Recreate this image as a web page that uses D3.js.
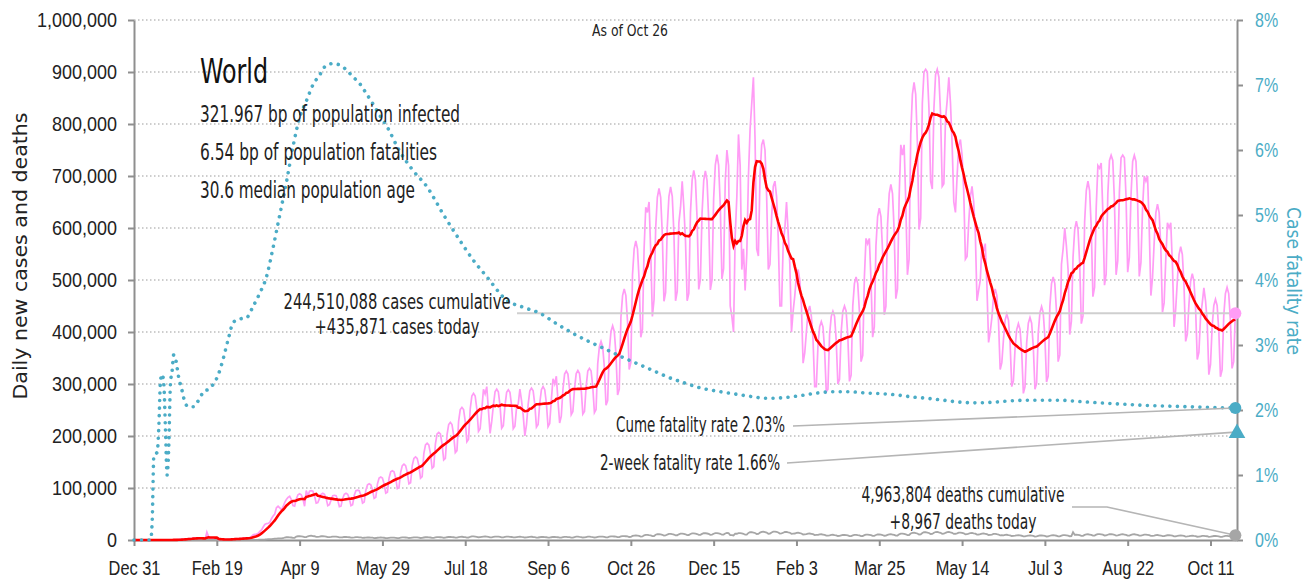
<!DOCTYPE html>
<html>
<head>
<meta charset="utf-8">
<script src="https://cdn.jsdelivr.net/npm/d3@7"></script>
<style>
body { margin: 0; background: #fff; }
svg { font-family: "DejaVu Sans Condensed", "DejaVu Sans", sans-serif; font-stretch: condensed; }
</style>
</head>
<body>
<svg width="1311" height="579"></svg>
<script>
// daily new cases in thousands, one value per day starting Dec 31, 2019 (rows = weeks, Tue..Mon)
var casesK = [
  0,0,0,0,0,0,0,
  0,0,0,0,0,0,0,
  0,0,0,0.03,0.08,0.1,0.08,
  0.15,0.26,0.1,0.29,0.45,0.69,0.77,
  1.77,1.46,1.74,1.98,2.1,2.59,2.83,
  3.24,3.88,3.69,3.14,3.39,2.65,2.98,
  2.47,2.02,15.15,6.53,2.66,2.1,2.06,
  1.88,1.79,0.56,0.63,1.06,0.64,0.88,
  1.06,1.4,1.8,1.8,2.2,2.0,2.6,
  2.4,2.8,2.8,3.8,4.1,4.0,3.9,
  4.5,7.0,10.0,10.9,11.4,13.0,16.5,
  19.4,25.0,29.8,31.6,31.7,34.0,41.0,
  46,50,62,65,62,58,64,
  72,78,82,84,78,66,65,
  79,87,89,87,79,65,95,
  85,94,95,94,85,71,72,
  80,88,90,88,80,66,68,
  77,85,86,85,77,64,65,
  80,88,90,88,80,66,68,
  86,95,96,95,86,71,73,
  96,106,108,106,96,80,82,
  108,119,121,119,108,90,92,
  119,131,133,131,119,99,101,
  130,143,146,143,130,108,110,
  143,157,160,157,143,119,122,
  166,183,186,183,166,138,141,
  185,204,207,204,185,154,157,
  202,222,226,222,202,168,172,
  228,251,255,251,228,189,194,
  252,277,282,277,252,209,214,
  250,290,281,295,250,205,228,
  259,285,290,285,259,215,220,
  258,284,289,284,258,214,219,
  255,262,290,268,240,200,222,
  261,287,292,287,261,217,222,
  263,289,295,289,263,218,224,
  270,310,300,315,268,225,238,
  290,319,325,319,290,241,247,
  291,320,326,320,291,242,247,
  295,325,330,325,295,245,251,
  339,372,382,372,332,259,268,
  365,401,412,401,358,279,290,
  428,470,483,470,420,328,341,
  510,560,575,560,500,390,405,
  560,640,630,650,555,430,462,
  600,659,676,659,588,459,476,
  602,661,679,661,590,460,478,
  610,640,690,640,575,460,474,
  630,692,711,692,618,482,501,
  629,691,710,691,617,481,500,
  657,721,741,721,644,502,522,
  690,750,720,450,430,400,585,
  660,780,720,520,560,480,550,
  700,790,840,890,770,560,546,
  700,760,770,750,660,520,530,
  620,680,690,660,580,450,450,
  570,600,650,590,530,400,440,
  470,510,520,500,450,340,360,
  400,440,450,430,385,295,295,
  375,410,420,410,365,285,290,
  395,430,440,430,384,300,309,
  400,440,450,440,392,305,317,
  450,493,506,493,440,343,355,
  505,580,570,580,500,390,410,
  566,622,638,622,555,433,449,
  607,666,684,666,595,464,483,
  660,760,740,760,650,510,540,
  780,857,880,857,765,597,619,
  840,900,905,900,830,690,675,
  830,895,905,890,820,680,685,
  810,845,890,840,760,650,630,
  700,760,770,740,670,540,545,
  610,660,680,650,590,460,480,
  500,570,555,570,490,380,400,
  428,470,483,470,420,328,341,
  386,423,435,423,378,295,306,
  369,405,416,405,362,282,295,
  379,417,428,417,372,290,301,
  398,437,449,437,390,304,315,
  449,493,506,493,440,343,356,
  530,560,600,565,520,395,421,
  544,597,613,597,533,416,431,
  612,672,690,672,600,468,486,
  640,720,715,725,630,490,511,
  665,730,740,730,652,510,537,
  670,735,740,735,660,515,544,
  663,728,740,728,650,507,534,
  640,700,690,700,600,470,505,
  573,629,646,629,562,438,456,
  540,610,600,610,530,410,445,
  500,549,564,549,490,382,396,
  454,498,512,498,445,347,361,
  430,455,485,460,420,318,337,
  411,451,463,451,403,314,327,
  431,474,486,474,423,330,343,
  435.871
];

// daily new deaths in thousands, same days
var deathsK = [
  0,0,0,0,0,0,0,
  0,0,0,0,0,0,0,
  0,0,0,0,0,0,0,
  0.01,0.01,0.01,0.01,0.02,0.02,0.03,
  0.03,0.03,0.04,0.05,0.05,0.06,0.06,
  0.07,0.07,0.07,0.09,0.09,0.1,0.1,
  0.1,0.1,0.25,0.14,0.14,0.1,0.1,
  0.1,0.1,0.12,0.1,0.1,0.1,0.15,
  0.07,0.05,0.04,0.06,0.06,0.06,0.07,
  0.08,0.1,0.1,0.1,0.1,0.1,0.2,
  0.25,0.3,0.3,0.35,0.4,0.45,0.6,
  0.7,0.9,1.0,1.2,1.5,1.6,1.8,
  2.2,2.5,2.7,3.0,3.2,3.1,3.4,
  4.8,5.3,5.4,5.1,4.8,4.1,4.2,
  6.5,7.2,7.3,6.9,6.5,5.5,5.7,
  7.2,7.9,8.5,7.6,7.2,6.1,5.9,
  6.5,7.2,7.3,6.9,6.5,5.5,5.7,
  5.9,6.5,6.6,6.3,5.9,5.0,5.1,
  5.3,5.8,5.9,5.6,5.3,4.5,4.6,
  4.9,5.4,5.5,5.2,4.9,4.2,4.3,
  4.4,4.8,4.9,4.7,4.4,3.7,3.8,
  4.3,4.7,4.8,4.6,4.3,3.7,3.7,
  4.2,4.6,4.7,4.5,4.2,3.6,3.7,
  4.5,5.0,5.0,4.8,4.5,3.8,3.9,
  4.6,5.1,5.2,4.9,4.6,3.9,4.0,
  4.8,5.3,5.4,5.1,4.8,4.1,4.2,
  5.0,5.5,5.6,5.3,5.0,4.3,4.4,
  5.3,5.8,5.9,5.6,5.3,4.5,4.6,
  5.5,6.1,6.2,5.8,5.5,4.7,4.8,
  6.2,6.8,6.9,6.6,6.2,5.3,5.4,
  6.0,6.6,6.7,6.4,6.0,5.1,5.2,
  5.9,6.5,6.6,6.3,5.9,5.0,5.1,
  5.8,6.4,6.5,6.1,5.8,4.9,5.0,
  5.6,6.2,6.3,5.9,5.6,4.8,4.9,
  5.5,6.1,6.2,5.8,5.5,4.7,4.8,
  5.3,5.8,5.9,5.6,5.3,4.5,4.6,
  5.3,5.8,5.9,5.6,5.3,4.5,4.6,
  5.4,5.9,6.0,5.7,5.4,4.6,4.7,
  5.7,6.3,6.4,6.0,5.7,4.8,5.0,
  5.7,6.3,6.4,6.0,5.7,4.8,5.0,
  5.9,6.5,6.6,6.3,5.9,5.0,5.1,
  6.3,6.9,7.1,6.7,6.3,5.4,5.5,
  6.8,7.5,7.6,7.2,6.8,5.8,5.9,
  7.8,8.6,8.7,8.3,7.8,6.6,6.8,
  8.9,9.8,10.0,9.4,8.9,7.6,7.7,
  10.1,11.1,11.3,10.7,10.1,8.6,8.8,
  10.5,11.6,11.8,11.1,10.5,8.9,9.1,
  11.0,12.1,12.3,11.7,11.0,9.4,9.6,
  11.5,12.7,12.9,12.2,11.5,9.8,10.0,
  11.8,13.0,13.2,12.5,11.8,10.0,10.3,
  12.0,13.2,13.4,12.7,12.0,10.2,10.4,
  12.5,13.5,13.2,9.5,9.5,8.8,12.1,
  12.0,13.2,13.4,12.7,12.0,10.2,10.4,
  13.5,14.9,15.1,14.3,13.5,11.5,11.7,
  14.2,15.6,15.9,15.1,14.2,12.1,12.4,
  14.5,16.0,16.2,15.4,14.5,12.3,12.6,
  14.0,15.4,15.7,14.8,14.0,11.9,12.2,
  12.5,13.8,14.0,13.3,12.5,10.6,10.9,
  11.2,12.3,12.5,11.9,11.2,9.5,9.7,
  9.8,10.8,11.0,10.4,9.8,8.3,8.5,
  9.0,9.9,10.1,9.5,9.0,7.7,7.8,
  8.7,9.6,9.7,9.2,8.7,7.4,7.6,
  8.9,9.8,10.0,9.4,8.9,7.6,7.7,
  9.3,10.2,10.4,9.9,9.3,7.9,8.1,
  9.6,10.6,10.8,10.2,9.6,8.2,8.4,
  9.9,10.9,11.1,10.5,9.9,8.4,8.6,
  11.0,12.1,12.3,11.7,11.0,9.4,9.6,
  12.5,13.8,14.0,13.3,12.5,10.6,10.9,
  13.5,14.9,15.1,14.3,13.5,11.5,11.7,
  13.9,15.3,15.6,14.7,13.9,11.8,12.1,
  13.8,15.2,15.5,14.6,13.8,11.7,12.0,
  12.8,14.1,14.3,13.6,12.8,10.9,11.1,
  12.2,13.4,13.7,12.9,12.2,10.4,10.6,
  11.3,12.4,12.7,12.0,11.3,9.6,9.8,
  10.5,11.6,11.8,11.1,10.5,8.9,9.1,
  9.0,9.9,10.1,9.5,9.0,7.7,7.8,
  8.2,9.0,9.2,8.7,8.2,7.0,7.1,
  7.8,8.6,8.7,8.3,7.8,6.6,6.8,
  7.9,8.7,8.8,8.4,7.9,6.7,6.9,
  8.2,9.0,9.2,8.7,8.2,7.0,7.1,
  8.5,9.4,9.5,9.0,8.5,7.2,7.4,
  15.0,10.1,10.3,9.8,9.2,7.8,8.0,
  9.8,10.8,11.0,10.4,9.8,8.3,8.5,
  10.2,11.2,11.4,10.8,10.2,8.7,8.9,
  10.1,11.1,11.3,10.7,10.1,8.6,8.8,
  9.9,10.9,11.1,10.5,9.9,8.4,8.6,
  9.8,10.8,11.0,10.4,9.8,8.3,8.5,
  9.3,10.2,10.4,9.9,9.3,7.9,8.1,
  8.6,9.5,9.6,9.1,8.6,7.3,7.5,
  8.3,9.1,9.3,8.8,8.3,7.1,7.2,
  7.8,8.6,8.7,8.3,7.8,6.6,6.8,
  7.4,8.1,8.3,7.8,7.4,6.3,6.4,
  7.2,7.9,8.1,7.6,7.2,6.1,6.3,
  7.0,7.7,7.8,7.4,7.0,6.0,6.1,
  7.2,7.9,8.1,7.6,7.2,6.1,6.3,
  8.967
];

// cumulative case fatality rate (%), sampled on these day numbers since Dec 31, 2019
var cfrDays = [0,10,11,12,14,15,16,17,18,19,20,21,22,23,24,25,27,29,31,33,36,39,42,45,48,51,54,57,60,64,68,72,76,80,84,88,92,96,100,104,108,112,116,120,124,128,132,136,140,144,148,153,160,168,177,187,197,205,213,225,235,245,255,265,275,286,296,306,314,322,332,342,352,362,372,382,392,402,412,422,432,443,452,461,470,479,489,499,509,519,529,539,549,559,571,583,597,611,624,637,650,665];
var cfrPct  = [0,0,0.3,1.3,1.35,1.75,2.45,2.55,2.4,1.7,1.0,1.45,2.4,2.6,2.85,2.8,2.5,2.3,2.1,2.05,2.05,2.15,2.28,2.32,2.4,2.55,2.8,3.1,3.35,3.4,3.42,3.6,3.8,4.05,4.5,5.0,5.5,6.05,6.5,6.75,7.0,7.15,7.3,7.33,7.31,7.24,7.13,7.03,6.88,6.72,6.55,6.35,6.0,5.7,5.43,5.0,4.6,4.3,4.05,3.69,3.58,3.49,3.33,3.18,3.05,2.92,2.8,2.69,2.6,2.51,2.42,2.34,2.29,2.25,2.21,2.18,2.19,2.22,2.26,2.28,2.28,2.26,2.25,2.23,2.2,2.18,2.15,2.12,2.11,2.12,2.14,2.15,2.15,2.15,2.13,2.11,2.09,2.07,2.06,2.05,2.04,2.03];

var xTickDates = ["2019-12-31","2020-02-19","2020-04-09","2020-05-29","2020-07-18","2020-09-06","2020-10-26",
                  "2020-12-15","2021-02-03","2021-03-25","2021-05-14","2021-07-03","2021-08-22","2021-10-11"];
var yTicks  = [0,100000,200000,300000,400000,500000,600000,700000,800000,900000,1000000];
var y2Ticks = [0,0.01,0.02,0.03,0.04,0.05,0.06,0.07,0.08];

var place = "World", asOf = "As of Oct 26";
var infectedBp = "321.967", fatalBp = "6.54", medianAge = "30.6";
var casesTotal = 244510088, casesToday = 435871, deathsTotal = 4963804, deathsToday = 8967;
var cfrCume = 0.0203, cfr2wk = 0.0166;

var teal = "#4bacc6", pink = "#ff9cf5", grey = "#a6a6a6";
var svg = d3.select("svg");
var t0 = Date.UTC(2019, 11, 31);
function dayDate(i) { return new Date(t0 + i * 864e5); }

var x  = d3.scaleUtc().domain([dayDate(0), dayDate(666)]).range([134, 1237]),
    y  = d3.scaleLinear().domain([0, 1000000]).range([540, 20]),
    y2 = d3.scaleLinear().domain([0, 0.08]).range([540, 20]);

var daily = casesK.map(function(v, i) {
  var win = casesK.slice(Math.max(0, i - 6), i + 1);
  return { date: dayDate(i), cases: v * 1000, avg: d3.mean(win) * 1000, deaths: deathsK[i] * 1000 };
});
var cfr = cfrDays.map(function(d, i) { return { date: dayDate(d), rate: cfrPct[i] / 100 }; });
var lastDate = dayDate(casesK.length - 1);

// grid
svg.append("g").selectAll("line").data(yTicks.slice(1)).join("line")
  .attr("x1", 134).attr("x2", 1237).attr("y1", y).attr("y2", y)
  .attr("stroke", "#bdbdbd").attr("stroke-width", 1.3).attr("stroke-dasharray", "1.5,2.5");

// axes; the chart's font is narrower than what we have, so labels get squeezed sideways
function styleAxis(g, col, size, sx) {
  g.select(".domain").attr("stroke", "#8f8f8f").attr("stroke-width", 2);
  g.selectAll(".tick line").attr("stroke", "#8f8f8f").attr("stroke-width", 2);
  g.selectAll(".tick text").attr("fill", col).style("font-size", size + "px")
    .attr("x", function() { return +d3.select(this).attr("x") / sx; })
    .attr("transform", "scale(" + sx + ",1)");
}
svg.append("g").attr("transform", "translate(134,0)")
  .call(d3.axisLeft(y).tickValues(yTicks).tickFormat(d3.format(",")).tickSize(6).tickPadding(11).tickSizeOuter(0))
  .call(styleAxis, "#222", 20, 0.9);
svg.append("g").attr("transform", "translate(1237,0)")
  .call(d3.axisRight(y2).tickValues(y2Ticks).tickFormat(d3.format(".0%")).tickSize(6).tickPadding(12).tickSizeOuter(0))
  .call(styleAxis, teal, 20, 0.8);
svg.append("g").attr("transform", "translate(0,540)")
  .call(d3.axisBottom(x).tickValues(xTickDates.map(function(s) { return new Date(s + "T00:00:00Z"); }))
    .tickFormat(d3.utcFormat("%b %-d")).tickSize(6).tickPadding(14).tickSizeOuter(0))
  .call(styleAxis, "#222", 21, 0.78);

// series
svg.append("path").datum(daily)
  .attr("d", d3.line().x(function(d) { return x(d.date); }).y(function(d) { return y(d.cases); }))
  .attr("fill", "none").attr("stroke", pink).attr("stroke-width", 1.7);

svg.append("line").attr("x1", 517).attr("x2", x(lastDate)).attr("y1", y(casesToday)).attr("y2", y(casesToday))
  .attr("stroke", "#cfcfcf").attr("stroke-width", 2);

svg.append("path").datum(daily)
  .attr("d", d3.line().x(function(d) { return x(d.date); }).y(function(d) { return y(d.deaths); }))
  .attr("fill", "none").attr("stroke", grey).attr("stroke-width", 1.8);

svg.append("path").datum(daily)
  .attr("d", d3.line().x(function(d) { return x(d.date); }).y(function(d) { return y(d.avg); }))
  .attr("fill", "none").attr("stroke", "#ff0000").attr("stroke-width", 2.6);

svg.append("path").datum(cfr)
  .attr("d", d3.line().curve(d3.curveMonotoneX).x(function(d) { return x(d.date); }).y(function(d) { return y2(d.rate); }))
  .attr("fill", "none").attr("stroke", teal).attr("stroke-width", 3.6)
  .attr("stroke-linecap", "round").attr("stroke-dasharray", "0.01,7.5");

// leaders and end markers
var xe = x(lastDate);
function leader(pts) {
  svg.append("path").attr("d", d3.line()(pts)).attr("fill", "none")
    .attr("stroke", "#b5b5b5").attr("stroke-width", 1.6);
}
leader([[793, 426], [xe, y2(cfrCume)]]);
leader([[787, 463], [xe, y2(cfr2wk)]]);
leader([[1072, 507], [1107, 507], [xe, y(deathsToday)]]);

svg.append("circle").attr("cx", xe).attr("cy", y(casesToday)).attr("r", 6).attr("fill", pink);
svg.append("circle").attr("cx", xe).attr("cy", y2(cfrCume)).attr("r", 6).attr("fill", teal);
svg.append("circle").attr("cx", xe).attr("cy", y(deathsToday)).attr("r", 6).attr("fill", grey);
svg.append("path").attr("d", d3.symbol(d3.symbolTriangle, 120)())
  .attr("transform", "translate(1237," + (y2(cfr2wk) + 1) + ")").attr("fill", teal);

// texts, each fitted to the width it takes in the original
function label(tx, ty, s, size, width, anchor, col, rot) {
  svg.append("text").attr("transform", "translate(" + tx + "," + ty + ")" + (rot ? " rotate(" + rot + ")" : ""))
    .attr("text-anchor", anchor || "start").attr("fill", col || "#222")
    .style("font-size", size + "px").attr("textLength", width).attr("lengthAdjust", "spacingAndGlyphs")
    .text(s);
}
var fmt = d3.format(",");
label(630, 36, asOf, 15, 76, "middle");
label(200, 83, place, 34, 68, "start", "#111");
label(200, 122, infectedBp + " bp of population infected", 23, 260);
label(200, 160, fatalBp + " bp of population fatalities", 23, 237);
label(200, 198, medianAge + " median population age", 23, 215);
label(397, 309, fmt(casesTotal) + " cases cumulative", 21, 227, "middle");
label(397, 334, "+" + fmt(casesToday) + " cases today", 21, 165, "middle");
label(785, 432, "Cume fatality rate " + d3.format(".2%")(cfrCume), 21, 169, "end");
label(780, 470, "2-week fatality rate " + d3.format(".2%")(cfr2wk), 21, 180, "end");
label(963, 502, fmt(deathsTotal) + " deaths cumulative", 21, 203, "middle");
label(963, 529, "+" + fmt(deathsToday) + " deaths today", 21, 147, "middle");
label(27, 256, "Daily new cases and deaths", 19, 287, "middle", "#222", -90);
label(1287, 281, "Case fatality rate", 19, 148, "middle", teal, 90);
</script>
</body>
</html>
